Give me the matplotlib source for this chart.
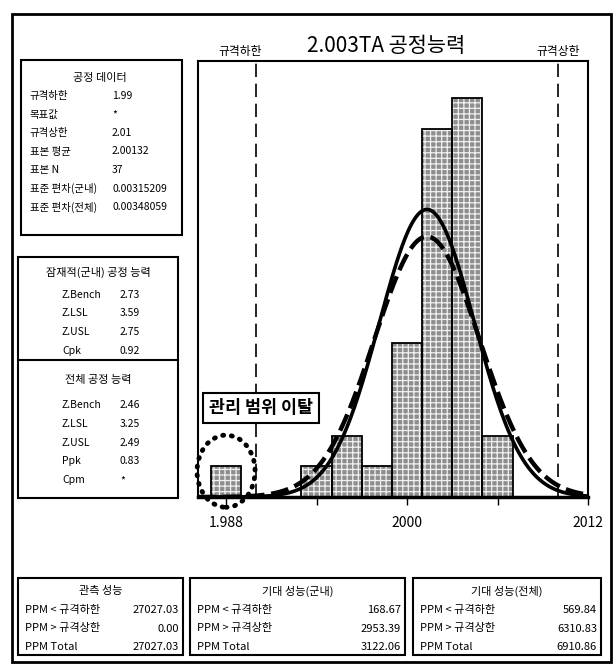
import matplotlib
matplotlib.use("Agg")
import matplotlib.pyplot as plt
from matplotlib.patches import Rectangle, Ellipse
import numpy as np

plt.rcParams['font.family'] = ['Noto Sans CJK KR', 'DejaVu Sans']
plt.rcParams['hatch.linewidth'] = 0.9

# histogram (bin edges, counts)
bin_left = [1.987, 1.993, 1.995, 1.997, 1.999, 2.001, 2.003, 2.005]
counts = [1, 1, 2, 1, 5, 12, 13, 2]
bin_w = 0.002

lsl, usl = 1.99, 2.01
mean = 2.00132
n = 37
sd_within = 0.00315209
sd_overall = 0.00348059

data_rows = [("규격하한", "1.99"), ("목표값", "*"), ("규격상한", "2.01"),
             ("표본 평균", "2.00132"), ("표본 N", "37"),
             ("표준 편차(군내)", "0.00315209"), ("표준 편차(전체)", "0.00348059")]
within_rows = [("Z.Bench", "2.73"), ("Z.LSL", "3.59"), ("Z.USL", "2.75"), ("Cpk", "0.92")]
overall_rows = [("Z.Bench", "2.46"), ("Z.LSL", "3.25"), ("Z.USL", "2.49"),
                ("Ppk", "0.83"), ("Cpm", "*")]
ppm_titles = ["관측 성능", "기대 성능(군내)", "기대 성능(전체)"]
ppm_labels = ["PPM < 규격하한", "PPM > 규격상한", "PPM Total"]
ppm_values = [["27027.03", "0.00", "27027.03"],
              ["168.67", "2953.39", "3122.06"],
              ["569.84", "6310.83", "6910.86"]]
xticks = [1.988, 1.994, 2.000, 2.006, 2.012]
xticklabels = ["1.988", "", "2000", "", "2012"]

W, H = 615, 664
fig = plt.figure(figsize=(W / 100, H / 100), dpi=100)


def fx(x):
    return x / W


def fy(y):
    return 1 - y / H


def box(x0, y0, x1, y1, lw=1.5):
    fig.patches.append(Rectangle((fx(x0), fy(y1)), fx(x1) - fx(x0), fy(y0) - fy(y1),
                                 transform=fig.transFigure, fill=False,
                                 edgecolor='black', linewidth=lw))


def txt(x, y, s, size=7.5, ha='left', **kw):
    fig.text(fx(x), fy(y), s, fontsize=size, ha=ha, va='center', **kw)


# outer frame
box(12, 14, 611, 662, lw=2)

# main plot
ax = fig.add_axes([fx(198), fy(497), fx(588) - fx(198), fy(61) - fy(497)])
ax.bar(bin_left, counts, width=bin_w, align='edge', color='#8e8e8e',
       edgecolor='#f0f0f0', hatch='+++', linewidth=0)
ax.bar(bin_left, counts, width=bin_w, align='edge', fill=False,
       edgecolor='black', linewidth=1.3)

xs = np.linspace(1.98614, 2.012, 400)
scale = n * bin_w
pdf_w = scale * np.exp(-0.5 * ((xs - mean) / sd_within) ** 2) / (sd_within * np.sqrt(2 * np.pi))
pdf_o = scale * np.exp(-0.5 * ((xs - mean) / sd_overall) ** 2) / (sd_overall * np.sqrt(2 * np.pi))
ax.plot(xs, pdf_w, color='black', linewidth=2.6)
ax.plot(xs, pdf_o, color='black', linewidth=3.2, linestyle=(0, (4, 1.5)))

ax.axvline(lsl, color='black', linewidth=1.2, linestyle=(0, (8, 4)))
ax.axvline(usl, color='black', linewidth=1.2, linestyle=(0, (8, 4)))

ax.set_xlim(1.98614, 2.012)
ax.set_ylim(0, 14.2)
ax.set_yticks([])
ax.set_xticks(xticks)
ax.set_xticklabels(xticklabels, fontsize=10)
ax.tick_params(axis='x', direction='out', length=6, width=1, pad=8)
for sp in ax.spines.values():
    sp.set_linewidth(1.5)
ax.spines['bottom'].set_linewidth(2.5)

ell = Ellipse((1.988, 0.84), 0.00385, 2.35, fill=False, edgecolor='black',
              linewidth=3.5, linestyle=(0, (0.2, 1.6)), clip_on=False)
ell.set_capstyle('round')
ax.add_patch(ell)

ax.text(1.99032, 2.9, "관리 범위 이탈", fontsize=12.5, fontweight='bold', ha='center',
        va='center', zorder=5,
        bbox=dict(boxstyle='square,pad=0.35', facecolor='white',
                  edgecolor='black', linewidth=1.5))

# titles above plot
txt(386, 46, "2.003TA 공정능력", size=15, ha='center')
txt(240, 52, "규격하한", size=8.5, ha='center')
txt(558, 52, "규격상한", size=8.5, ha='center')

# process data box
box(21, 60, 182, 235)
txt(100, 78, "공정 데이터", size=8, ha='center')
for i, (lab, val) in enumerate(data_rows):
    y = 96 + i * 18.5
    txt(30, y, lab, size=7.5)
    txt(112, y, val, size=7.5)

# capability box
box(18, 257, 178, 498)
fig.add_artist(plt.Line2D([fx(18), fx(178)], [fy(360), fy(360)],
                          transform=fig.transFigure, color='black', linewidth=1.5))
txt(98, 272, "잠재적(군내) 공정 능력", size=8, ha='center')
for i, (lab, val) in enumerate(within_rows):
    y = 295 + i * 18.5
    txt(62, y, lab, size=7.5)
    txt(120, y, val, size=7.5)
txt(98, 380, "전체 공정 능력", size=8, ha='center')
for i, (lab, val) in enumerate(overall_rows):
    y = 405 + i * 18.8
    txt(62, y, lab, size=7.5)
    txt(120, y, val, size=7.5)

# bottom performance boxes
ppm_boxes = [(18, 183), (190, 405), (413, 601)]
for (x0, x1), title, vals in zip(ppm_boxes, ppm_titles, ppm_values):
    box(x0, 578, x1, 655)
    txt((x0 + x1) / 2, 591, title, size=8, ha='center')
    for j, (lab, val) in enumerate(zip(ppm_labels, vals)):
        y = 610 + j * 18.5
        txt(x0 + 7, y, lab, size=8)
        txt(x1 - 4, y, val, size=8, ha='right')

fig.savefig("out.png", dpi=100)
